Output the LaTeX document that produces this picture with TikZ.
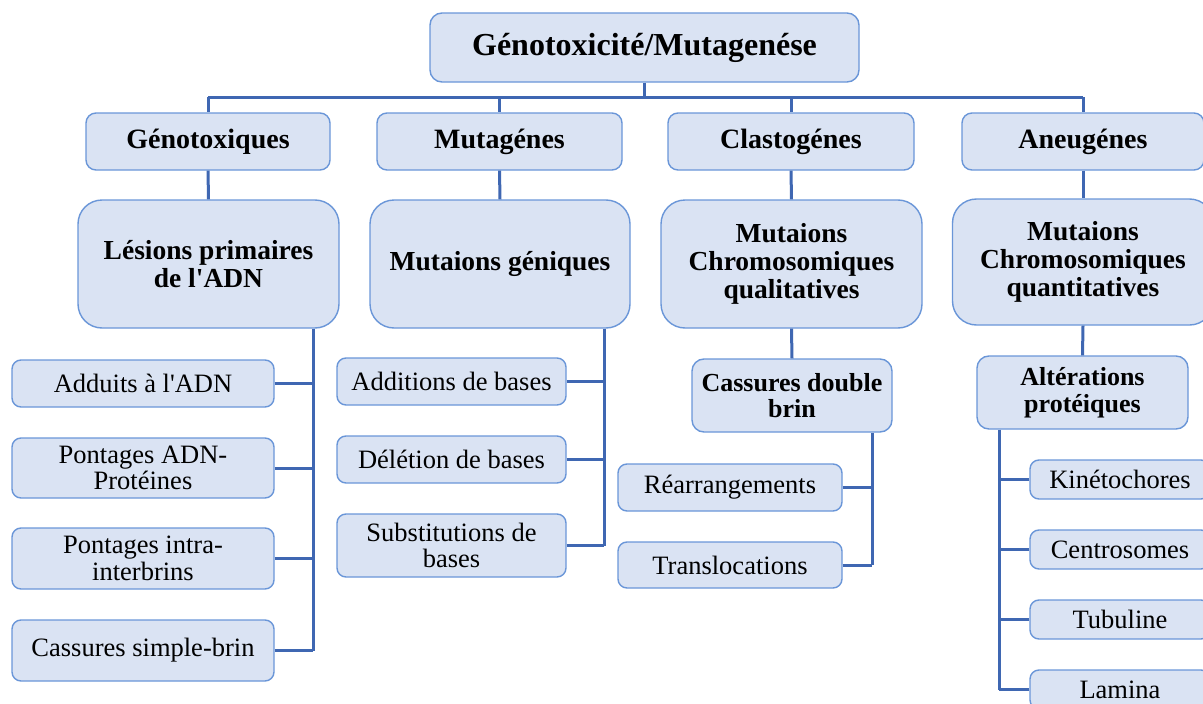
\documentclass[tikz,border=0pt]{standalone}
\usepackage{fontspec}
\setmainfont{Liberation Serif}
\definecolor{boxfill}{HTML}{DAE3F3}
\definecolor{boxdraw}{HTML}{6A96D8}
\definecolor{linec}{HTML}{3F67B2}
\newcommand{\apos}{\textquotesingle}
\tikzset{
  box/.style={draw=boxdraw, fill=boxfill, line width=1.4pt, align=center, inner sep=0pt, text=black},
  topbox/.style={box, rounded corners=12pt, font=\fontsize{32}{34}\selectfont\bfseries},
  lvlone/.style={box, rounded corners=10pt, font=\fontsize{28}{30}\selectfont\bfseries},
  lvltwo/.style={box, rounded corners=24pt, font=\fontsize{27.5}{28}\selectfont\bfseries},
  midbox/.style={box, rounded corners=12pt, font=\fontsize{26}{26.5}\selectfont\bfseries},
  leaf/.style={box, rounded corners=9pt, font=\fontsize{26.5}{26.5}\selectfont},
  conn/.style={draw=linec, line width=3pt},
}
\begin{document}
\begin{tikzpicture}[x=1pt,y=-1pt]
\useasboundingbox (0,0) rectangle (1203,704);
\clip (0,0) rectangle (1203,704);
% top
\node[topbox, minimum width=429pt, minimum height=69pt] (top) at (644.5,47.5) {Génotoxicité/Mutagenése};
% level 1
\node[lvlone, minimum width=244pt, minimum height=57pt] (g1) at (208,141.5) {Génotoxiques};
\node[lvlone, minimum width=245pt, minimum height=57pt] (m1) at (499.5,141.5) {Mutagénes};
\node[lvlone, minimum width=246pt, minimum height=57pt] (c1) at (791,141.5) {Clastogénes};
\node[lvlone, minimum width=242pt, minimum height=57pt] (a1) at (1083,141.5) {Aneugénes};
% level 2
\node[lvltwo, minimum width=261pt, minimum height=128pt] (l2) at (208.5,264) {Lésions primaires\\de l\apos ADN};
\node[lvltwo, minimum width=260pt, minimum height=128pt] (mg) at (500,264) {Mutaions géniques};
\node[lvltwo, minimum width=261pt, minimum height=128pt] (mq) at (791.5,264) {Mutaions\\Chromosomiques\\qualitatives};
\node[lvltwo, minimum width=261pt, minimum height=126pt] (mt) at (1083,262) {Mutaions\\Chromosomiques\\quantitatives};
% left leaves
\node[leaf, minimum width=262pt, minimum height=47pt] (ad) at (143,383.5) {Adduits à l\apos ADN};
\node[leaf, minimum width=262pt, minimum height=60pt] (pa) at (143,468) {Pontages ADN-\\Protéines};
\node[leaf, minimum width=262pt, minimum height=61pt] (pi) at (143,558.5) {Pontages intra-\\interbrins};
\node[leaf, minimum width=262pt, minimum height=61pt] (cs) at (143,650.5) {Cassures simple-brin};
% mutagenes leaves
\node[leaf, minimum width=229pt, minimum height=47pt] (adb) at (451.5,381.5) {Additions de bases};
\node[leaf, minimum width=229pt, minimum height=47pt] (deb) at (451.5,459.5) {Délétion de bases};
\node[leaf, minimum width=229pt, minimum height=63pt] (sub) at (451.5,545.5) {Substitutions de\\bases};
% clastogenes
\node[midbox, minimum width=200pt, minimum height=73pt] (cdb) at (792,395.5) {Cassures double\\brin};
\node[leaf, minimum width=224pt, minimum height=47pt] (rea) at (730,487.5) {Réarrangements};
\node[leaf, minimum width=224pt, minimum height=46pt] (tra) at (730,565) {Translocations};
% aneugenes
\node[midbox, minimum width=211pt, minimum height=73pt] (alt) at (1082.5,392.5) {Altérations\\protéiques};
\node[leaf, minimum width=180pt, minimum height=39pt] (kin) at (1120,479.5) {Kinétochores};
\node[leaf, minimum width=180pt, minimum height=39pt] (cen) at (1120,549.5) {Centrosomes};
\node[leaf, minimum width=180pt, minimum height=39pt] (tub) at (1120,619.5) {Tubuline};
\node[leaf, minimum width=180pt, minimum height=39pt] (lam) at (1120,689.5) {Lamina};
% bus coordinates
\coordinate (bus) at (0,97);
\coordinate (vl) at (313,0);
\coordinate (vm) at (604,0);
\coordinate (vc) at (872,0);
\coordinate (va) at (999,0);
% top connectors
\draw[conn] (top.south) -- (top.south |- bus);
\draw[conn] (g1.north |- bus) -- (a1.north |- bus);
\draw[conn] (g1.north |- bus) -- (g1.north);
\draw[conn] (m1.north |- bus) -- (m1.north);
\draw[conn] (c1.north |- bus) -- (c1.north);
\draw[conn] (a1.north |- bus) -- (a1.north);
% level1 -> level2
\draw[conn] (g1.south) -- (l2.north);
\draw[conn] (m1.south) -- (mg.north);
\draw[conn] (c1.south) -- (mq.north);
\draw[conn] (a1.south) -- (mt.north);
% left chain
\draw[conn] (vl |- l2.south) -- (vl |- cs.east);
\foreach \n in {ad,pa,pi,cs} \draw[conn] (\n.east) -- (vl |- \n.east);
% mutagenes chain
\draw[conn] (vm |- mg.south) -- (vm |- sub.east);
\foreach \n in {adb,deb,sub} \draw[conn] (\n.east) -- (vm |- \n.east);
% clastogenes chain
\draw[conn] (mq.south) -- (cdb.north);
\draw[conn] (vc |- cdb.south) -- (vc |- tra.east);
\foreach \n in {rea,tra} \draw[conn] (\n.east) -- (vc |- \n.east);
% aneugenes chain
\draw[conn] (mt.south) -- (alt.north);
\draw[conn] (va |- alt.south) -- (va |- lam.west);
\foreach \n in {kin,cen,tub,lam} \draw[conn] (\n.west) -- (va |- \n.west);
\end{tikzpicture}
\end{document}
